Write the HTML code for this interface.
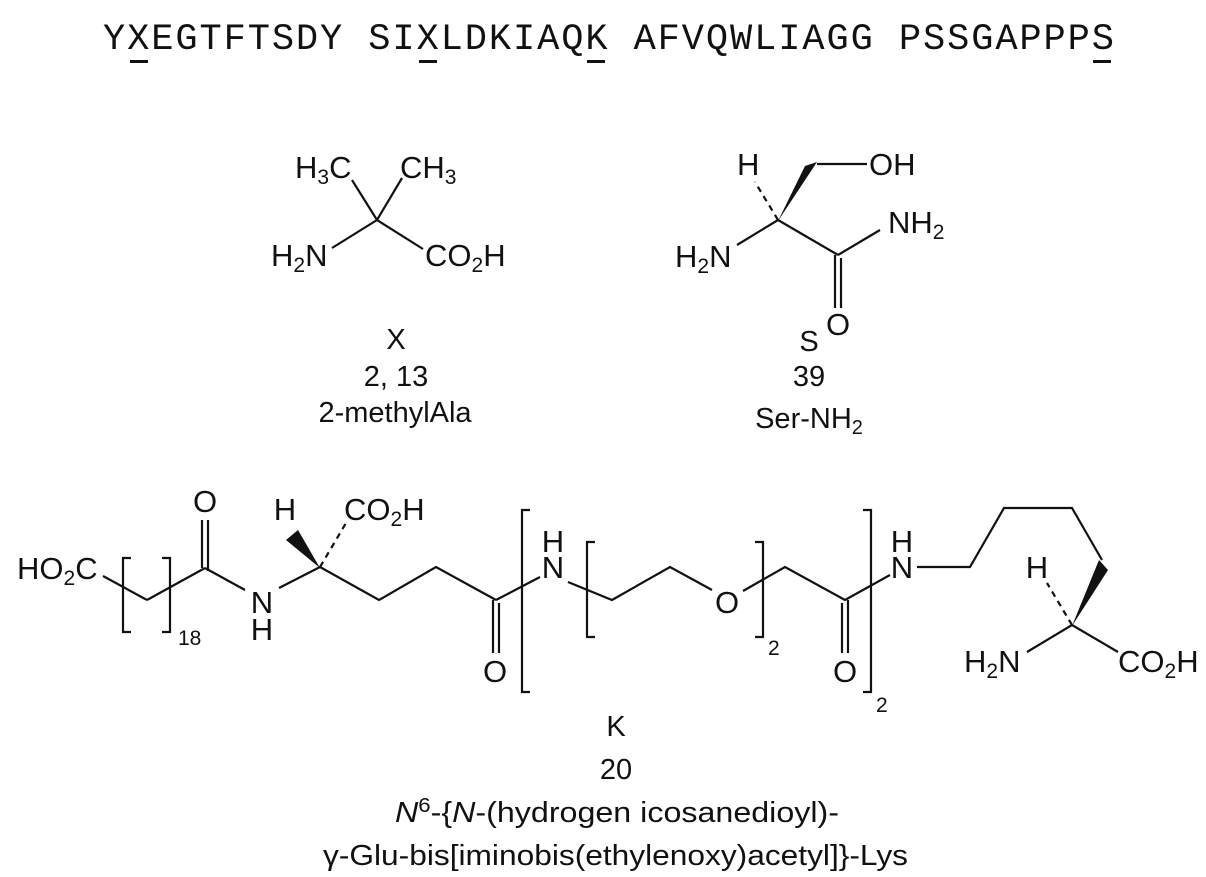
<!DOCTYPE html>
<html><head><meta charset="utf-8"><style>
html,body{margin:0;padding:0;background:#fff;}
svg{display:block;}
text{font-family:"Liberation Sans",Arial,sans-serif;fill:#111;}
</style></head><body>
<svg width="1206" height="877" viewBox="0 0 1206 877" xmlns="http://www.w3.org/2000/svg">
<text x="103" y="49" style="font-family:'Liberation Mono',monospace;font-size:37px;white-space:pre" textLength="1011" lengthAdjust="spacing" xml:space="preserve">YXEGTFTSDY SIXLDKIAQK AFVQWLIAGG PSSGAPPPS</text>
<g fill="#111">
<rect x="130" y="60" width="18" height="3"/>
<rect x="419" y="60" width="18" height="3"/>
<rect x="587" y="60" width="18" height="3"/>
<rect x="1093" y="60" width="18" height="3"/>
</g>
<g stroke="#111" stroke-width="2.2" fill="none">
<!-- X -->
<line x1="352" y1="180" x2="377" y2="220"/>
<line x1="402" y1="178" x2="377" y2="220"/>
<line x1="377" y1="220" x2="332" y2="248"/>
<line x1="377" y1="220" x2="423" y2="249"/>
<!-- S -->
<line x1="778" y1="220" x2="737" y2="245"/>
<line x1="778" y1="220" x2="838" y2="255"/>
<line x1="838" y1="255" x2="880" y2="230"/>
<line x1="835" y1="255" x2="835" y2="308"/>
<line x1="841" y1="258" x2="841" y2="308"/>
<line x1="817" y1="164" x2="867" y2="164"/>
<line x1="778" y1="220" x2="755" y2="182" stroke-dasharray="6,5"/>
<!-- K chain -->
<line x1="103" y1="576" x2="147" y2="600"/>
<line x1="147" y1="600" x2="205" y2="568"/>
<polyline points="131,558 123,558 123,632 131,632"/>
<polyline points="162,558 170,558 170,632 162,632"/>
<line x1="202" y1="520" x2="202" y2="568"/>
<line x1="208" y1="520" x2="208" y2="571"/>
<line x1="205" y1="568" x2="245" y2="590"/>
<line x1="279" y1="588" x2="320" y2="567"/>
<line x1="320" y1="567" x2="346" y2="523" stroke-dasharray="6,5"/>
<polyline points="320,567 379,600 436,567 496,600"/>
<line x1="493" y1="600" x2="493" y2="653"/>
<line x1="499" y1="603" x2="499" y2="653"/>
<polyline points="530,510 522,510 522,692 530,692"/>
<line x1="496" y1="600" x2="540" y2="577"/>
<polyline points="568,582 612,600 670,567 712,590"/>
<polyline points="743,591 785,567 845,600 890,575"/>
<line x1="842" y1="603" x2="842" y2="653"/>
<line x1="848" y1="600" x2="848" y2="653"/>
<polyline points="595,542 587,542 587,637 595,637"/>
<polyline points="755,542 763,542 763,637 755,637"/>
<polyline points="863,510 871,510 871,692 863,692"/>
<polyline points="917,567 970,567 1004,508 1072,508 1102,560"/>
<line x1="1072" y1="625" x2="1047" y2="583" stroke-dasharray="6,5"/>
<line x1="1072" y1="625" x2="1027" y2="652"/>
<line x1="1072" y1="625" x2="1118" y2="652"/>
</g>
<g fill="#111">
<polygon points="778,221 805,166 817,162"/>
<polygon points="320,568 286,540 298,530"/>
<polygon points="1072,626 1099,560 1108,570"/>
</g>
<g font-size="31">
<text x="295" y="178">H<tspan font-size="21" dy="6">3</tspan><tspan dy="-6">C</tspan></text>
<text x="400" y="178">CH<tspan font-size="21" dy="6">3</tspan></text>
<text x="271" y="266">H<tspan font-size="21" dy="6">2</tspan><tspan dy="-6">N</tspan></text>
<text x="425" y="266">CO<tspan font-size="21" dy="6">2</tspan><tspan dy="-6">H</tspan></text>
<text x="737" y="175">H</text>
<text x="869" y="175">OH</text>
<text x="675" y="267">H<tspan font-size="21" dy="6">2</tspan><tspan dy="-6">N</tspan></text>
<text x="888" y="233">NH<tspan font-size="21" dy="6">2</tspan></text>
<text x="838" y="335" text-anchor="middle">O</text>
<text x="17" y="579">HO<tspan font-size="21" dy="6">2</tspan><tspan dy="-6">C</tspan></text>
<text x="178" y="645" font-size="21">18</text>
<text x="205" y="512" text-anchor="middle">O</text>
<text x="262" y="613" text-anchor="middle">N</text>
<text x="262" y="640" text-anchor="middle">H</text>
<text x="285" y="520" text-anchor="middle">H</text>
<text x="344" y="520">CO<tspan font-size="21" dy="6">2</tspan><tspan dy="-6">H</tspan></text>
<text x="495" y="682" text-anchor="middle">O</text>
<text x="553" y="578" text-anchor="middle">N</text>
<text x="553" y="552" text-anchor="middle">H</text>
<text x="727" y="613" text-anchor="middle">O</text>
<text x="768" y="655" font-size="21">2</text>
<text x="845" y="682" text-anchor="middle">O</text>
<text x="876" y="712" font-size="21">2</text>
<text x="902" y="578" text-anchor="middle">N</text>
<text x="902" y="552" text-anchor="middle">H</text>
<text x="1037" y="578" text-anchor="middle">H</text>
<text x="964" y="672">H<tspan font-size="21" dy="6">2</tspan><tspan dy="-6">N</tspan></text>
<text x="1118" y="672">CO<tspan font-size="21" dy="6">2</tspan><tspan dy="-6">H</tspan></text>
</g>
<g font-size="29" text-anchor="middle">
<text x="396" y="349">X</text>
<text x="396" y="386">2, 13</text>
<text x="395" y="422">2-methylAla</text>
<text x="809" y="351">S</text>
<text x="809" y="386">39</text>
<text x="809" y="428">Ser-NH<tspan font-size="20" dy="6">2</tspan></text>
<text x="616" y="736">K</text>
<text x="616" y="779">20</text>
</g>
<text x="395" y="822" font-size="29" textLength="444" lengthAdjust="spacingAndGlyphs"><tspan font-style="italic">N</tspan><tspan font-size="20" dy="-10">6</tspan><tspan dy="10">-{</tspan><tspan font-style="italic">N</tspan>-(hydrogen icosanedioyl)-</text>
<text x="323" y="865" font-size="29" textLength="585" lengthAdjust="spacingAndGlyphs">γ-Glu-bis[iminobis(ethylenoxy)acetyl]}-Lys</text>
</svg>
</body></html>
